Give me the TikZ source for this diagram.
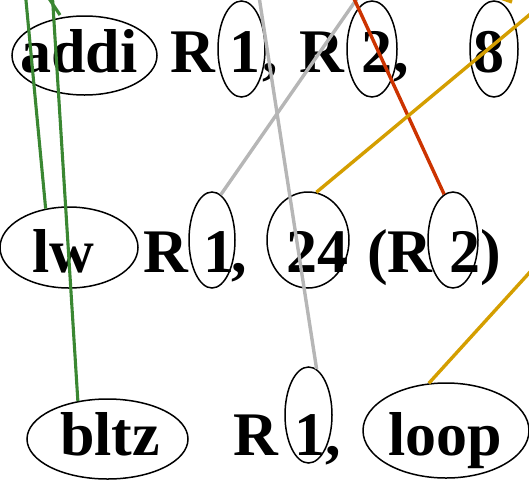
\documentclass[tikz,border=0pt]{standalone}
\usepackage{fontspec}
\setmainfont{Liberation Serif}
\usetikzlibrary{shapes.geometric}

\definecolor{depgreen}{RGB}{58,135,50}
\definecolor{depgray}{RGB}{182,182,182}
\definecolor{depred}{RGB}{204,51,0}
\definecolor{depgold}{RGB}{212,158,0}

\begin{document}
\begin{tikzpicture}[
    x=1pt, y=-1pt,
    tok/.style       = {font=\fontsize{62}{62}\selectfont\bfseries, inner sep=0pt, anchor=base},
    oval/.style      = {draw, ellipse, line width=1.5pt, inner sep=0pt},
    green-edge/.style = {depgreen, line width=3.1pt},
    gray-edge/.style  = {depgray, line width=3.4pt},
    red-edge/.style   = {depred, line width=3.4pt},
    gold-edge/.style  = {depgold, line width=3.4pt}
  ]
\useasboundingbox (0,0) rectangle (529,480);
\clip (0,0) rectangle (529,480);

% =========================================================
% ROW 1 -- addi R1, R2, 8
% =========================================================
\node[oval, minimum width=145pt, minimum height=79pt] (addiO) at (84.5,55.5) {};
\node[oval, minimum width=47pt, minimum height=96pt] (srcaO) at (241.5,49) {};
\node[oval, minimum width=50pt, minimum height=96pt] (dstaO) at (372,49) {};
\node[oval, minimum width=48pt, minimum height=96pt] (immO) at (494,49) {};

\node[tok] (addi) at (79,72) {addi};
\node[tok] (regA) at (193,72) {R};
\node[tok] (srcA) at (245,72) {1};
\node[tok] (comA) at (270,72) {,};
\node[tok] (regB) at (321.5,72) {R};
\node[tok] (dstA) at (377,72) {2};
\node[tok] (comB) at (401,72) {,};
\node[tok] (imm) at (488.5,72) {8};

% =========================================================
% ROW 2 -- lw R1, 24 (R2)
% =========================================================
\node[oval, minimum width=138pt, minimum height=81pt] (lwO) at (69,247.5) {};
\node[oval, minimum width=46pt, minimum height=96pt] (srcbO) at (212,240) {};
\node[oval, minimum width=82pt, minimum height=96pt] (offO) at (308,240) {};
\node[oval, minimum width=50pt, minimum height=96pt] (dstbO) at (453,240) {};

\node[tok] (lw) at (63,272) {lw};
\node[tok] (regC) at (166,272) {R};
\node[tok] (srcB) at (218.5,272) {1};
\node[tok] (comC) at (239.5,272) {,};
\node[tok] (off) at (317.5,272) {24};
\node[tok] (regD) at (400,272) {(R};
\node[tok] (dstB) at (464.5,272) {2};
\node[tok] (par) at (491,272) {)};

% =========================================================
% ROW 3 -- bltz R1, loop
% =========================================================
\node[oval, minimum width=161pt, minimum height=80pt] (bltzO) at (107.5,439) {};
\node[oval, minimum width=47pt, minimum height=96pt] (srccO) at (308.5,415) {};
\node[oval, minimum width=166pt, minimum height=95pt] (loopO) at (446,430.5) {};

\node[tok] (bltz) at (110,455) {bltz};
\node[tok] (regE) at (255.5,455) {R};
\node[tok] (srcC) at (309.5,455) {1};
\node[tok] (comD) at (333.5,455) {,};
\node[tok] (loop) at (445,455) {loop};

% free ends beyond the frame
\coordinate (gTopA) at (25,-10);
\coordinate (gTopB) at (52,-10);
\coordinate (gStubA) at (48,-3);
\coordinate (gStubB) at (60,15);
\coordinate (grTopA) at (363,-10);
\coordinate (grTopB) at (258,-10);
\coordinate (rTop) at (350,-10);
\coordinate (yOutA) at (540,6);
\coordinate (yOutB) at (540,261);
\coordinate (yStubA) at (498,-3);
\coordinate (yStubB) at (512,2);

% =========================================================
% DEPENDENCY EDGES
% =========================================================
\draw[green-edge] (gTopA) -- (lwO.121.7);
\draw[green-edge] (gTopB) -- (bltzO.128.2);
\draw[green-edge] (gStubA) -- (gStubB);

\draw[gray-edge] (srcbO.79.6) -- (grTopA);
\draw[gray-edge] (srccO.80) -- (grTopB);

\draw[red-edge] (rTop) -- (dstbO.101.8);

\draw[gold-edge] (offO.80.5) -- (yOutA);
\draw[gold-edge] (loopO.110.8) -- (yOutB);
\draw[gold-edge] (yStubA) -- (yStubB);

\end{tikzpicture}
\end{document}
